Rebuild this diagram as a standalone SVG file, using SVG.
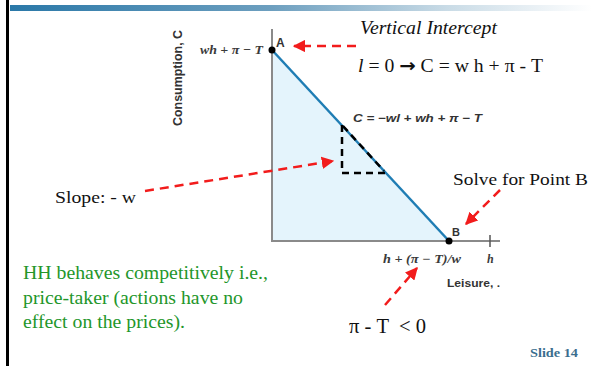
<svg xmlns="http://www.w3.org/2000/svg" width="592" height="366" viewBox="0 0 592 366">
<style>
.serif{font-family:"Liberation Serif","Times New Roman",serif;fill:#111}
.sans{font-family:"Liberation Sans",Arial,sans-serif;font-weight:bold;fill:#333}
.lab{font-family:"Liberation Serif","Times New Roman",serif;font-style:italic;font-weight:bold;fill:#3a3a3a}
.red{stroke:#f21c1c;stroke-width:2.5;stroke-dasharray:9 6;fill:none}
.blk{stroke:#000;stroke-width:2.5;stroke-dasharray:7 5;fill:none}
.green{font-family:"Liberation Serif","Times New Roman",serif;fill:#23962a;font-size:18px}
</style>
<defs>
<linearGradient id="bar" x1="0" x2="1" y1="0" y2="0">
<stop offset="0" stop-color="#2a78a8"/>
<stop offset="0.45" stop-color="#6d9fbf"/>
<stop offset="0.75" stop-color="#c9dbe6"/>
<stop offset="1" stop-color="#ffffff"/>
</linearGradient>
<marker id="ah" viewBox="0 0 10 10" refX="9" refY="5" markerWidth="5" markerHeight="5" orient="auto" markerUnits="strokeWidth">
<path d="M0,0 L10,5 L0,10 z" fill="#f21c1c"/>
</marker>
</defs>
<rect x="0" y="0" width="592" height="366" fill="#fff"/>
<rect x="6" y="0" width="3" height="366" fill="#000"/>
<rect x="10" y="5" width="582" height="6" fill="url(#bar)"/>
<g id="graph">
<polygon points="272,50 449,241 272,241" fill="#e4f4fc"/>
<line x1="272" y1="29" x2="272" y2="242" stroke="#8a8a8a" stroke-width="2"/>
<line x1="271" y1="241" x2="500" y2="241" stroke="#8a8a8a" stroke-width="2"/>
<line x1="490" y1="235" x2="490" y2="247" stroke="#555" stroke-width="1.5"/>
<line x1="272" y1="50" x2="449" y2="241" stroke="#1f7db4" stroke-width="2.5"/>
<circle cx="272" cy="50" r="3.5" fill="#000"/>
<circle cx="449" cy="241" r="3.5" fill="#000"/>
<text class="sans" font-size="12" transform="translate(182,78) rotate(-90)" text-anchor="middle" textLength="96" lengthAdjust="spacingAndGlyphs">Consumption, C</text>
<text class="lab" font-size="13" x="200" y="54" textLength="63" lengthAdjust="spacingAndGlyphs">wh + π − T</text>
<text class="sans" font-size="12" x="276" y="47">A</text>
<text class="sans" font-size="11" x="452" y="236">B</text>
<text class="sans" font-size="11" font-style="italic" x="353" y="122" textLength="129" lengthAdjust="spacingAndGlyphs">C = −wl + wh + π  − T</text>
<text class="lab" font-size="12" x="383" y="263" textLength="78" lengthAdjust="spacingAndGlyphs">h + (π − T)/w</text>
<text class="lab" font-size="12" x="487" y="263">h</text>
<text class="sans" font-size="11" x="447" y="287" textLength="53" lengthAdjust="spacingAndGlyphs">Leisure, .</text>
</g>
<g id="triangle">
<path class="blk" d="M342,125 L342,173 L385,173"/>
<line class="blk" x1="343" y1="126" x2="384" y2="171"/>
</g>
<g id="connectors">
<line class="red" x1="356" y1="46" x2="294" y2="46" marker-end="url(#ah)"/>
<line class="red" x1="145" y1="191" x2="333" y2="161" marker-end="url(#ah)"/>
<line class="red" x1="500" y1="190" x2="466" y2="224" marker-end="url(#ah)"/>
<line class="red" x1="385" y1="305" x2="417" y2="268" marker-end="url(#ah)"/>
</g>
<g id="notes">
<text class="serif" font-size="18" font-style="italic" x="360" y="34" textLength="137" lengthAdjust="spacingAndGlyphs">Vertical Intercept</text>
<text class="serif" font-size="18" x="358" y="72" textLength="185" lengthAdjust="spacingAndGlyphs"><tspan font-style="italic">l</tspan> = 0 <tspan font-family="DejaVu Sans,sans-serif" font-weight="bold">→</tspan> C = w h + π - T</text>
<text class="serif" font-size="17" x="55" y="203" textLength="81" lengthAdjust="spacingAndGlyphs">Slope: - w</text>
<text class="serif" font-size="17" x="453" y="185" textLength="135" lengthAdjust="spacingAndGlyphs">Solve for Point B</text>
<text class="serif" font-size="20" x="349" y="333" textLength="77" lengthAdjust="spacingAndGlyphs" xml:space="preserve">π - T  &lt; 0</text>
<text class="green" x="23" y="279" textLength="245" lengthAdjust="spacingAndGlyphs">HH behaves competitively i.e.,</text>
<text class="green" x="23" y="304" textLength="220" lengthAdjust="spacingAndGlyphs">price-taker (actions have no</text>
<text class="green" x="23" y="328" textLength="162" lengthAdjust="spacingAndGlyphs">effect on the prices).</text>
<text font-family="Liberation Serif,Times New Roman,serif" font-weight="bold" font-size="13" fill="#3b6e8e" x="530" y="357" textLength="48" lengthAdjust="spacingAndGlyphs">Slide 14</text>
</g>
</svg>
